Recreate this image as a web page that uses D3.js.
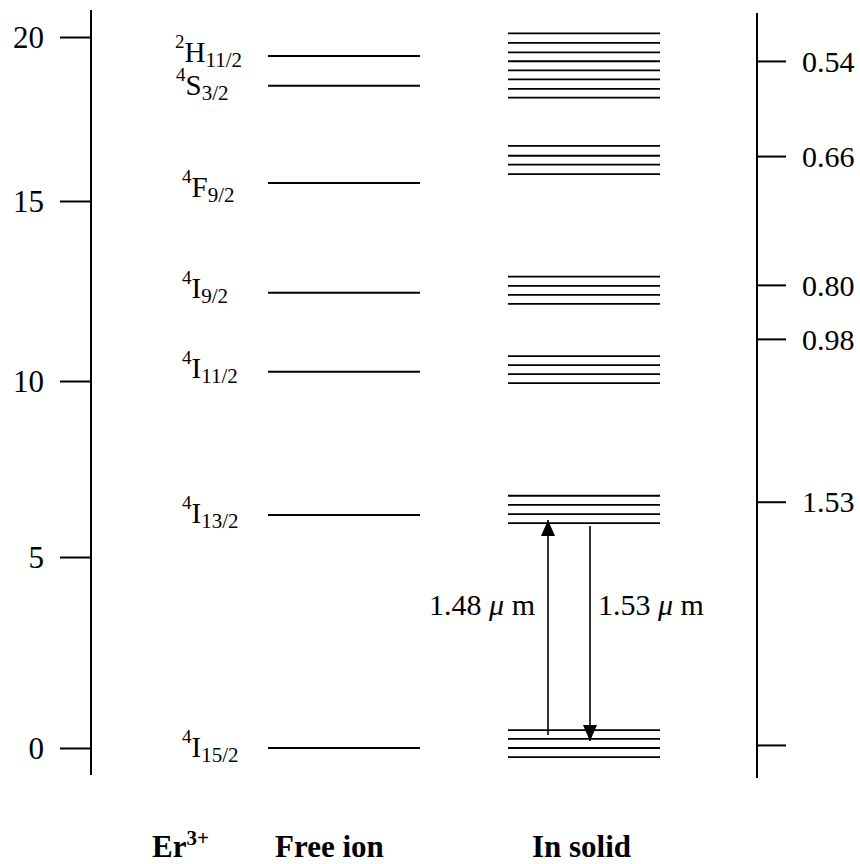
<!DOCTYPE html>
<html>
<head>
<meta charset="utf-8">
<script src="https://cdn.jsdelivr.net/npm/d3@7"></script>
<style>
  body { margin: 0; background: #fff; }
  svg text { font-family: "Liberation Serif", "Tinos", "Times New Roman", "DejaVu Serif", serif; fill: #000; }
</style>
</head>
<body>
<div id="chart-area"></div>
<script>
// energy axis, 10^3 cm^-1
var energyTicks = [0, 5, 10, 15, 20];

// free ion terms (lowest first)
var termSpin   = ["4", "4", "4", "4", "4", "4", "2"];
var termLetter = ["I", "I", "I", "I", "F", "S", "H"];
var termJ      = ["15/2", "13/2", "11/2", "9/2", "9/2", "3/2", "11/2"];
var freeIonEnergy = [0, 6.19, 10.26, 12.45, 15.55, 18.51, 19.42];

// stark sublevels in the solid
var starkI15 = [0.47, 0.24, 0, -0.24];
var starkI13 = [6.74, 6.48, 6.22, 5.96];
var starkI11 = [10.69, 10.44, 10.19, 9.94];
var starkI9  = [12.90, 12.64, 12.39, 12.14];
var starkF9  = [16.68, 16.38, 16.11, 15.82];
var starkSH  = [20.11, 19.82, 19.53, 19.26, 18.98, 18.71, 18.42, 18.15];

// wavelength marks on the right (um)
var wavelengthLabels = ["0.54", "0.66", "0.80", "0.98", "1.53", ""];
var wavelengthEnergy = [19.27, 16.37, 12.67, 11.17, 6.57, 0.08];

// pump / emission arrows
var transitionValue = ["1.48", "1.53"];
var transitionFrom  = [0.34, 5.88];
var transitionTo    = [6.05, 0.18];

var columnLabels = ["Er", "Free ion", "In solid"];

var width = 860, height = 864;
var leftAxisX = 91, rightAxisX = 757;
var axisTop = 10, axisBottom = 775;
var freeX = [268, 420], solidX = [508, 660];

var svg = d3.select("#chart-area").append("svg")
    .attr("width", width)
    .attr("height", height);

svg.append("rect").attr("width", width).attr("height", height).attr("fill", "#fff");

// tick spacing as drawn in the figure
var y = d3.scaleLinear()
    .domain(energyTicks)
    .range([748, 557, 381, 201, 37]);

// left energy axis
var left = svg.append("g")
    .attr("transform", "translate(" + leftAxisX + ",0)")
    .call(d3.axisLeft(y).tickValues(energyTicks).tickSize(31).tickPadding(16).tickSizeOuter(0));
left.attr("font-family", null);
left.select(".domain").remove();
left.selectAll("line").attr("stroke-width", 2);
left.selectAll("text").attr("font-size", 31).attr("dy", "0.34em");
svg.append("line")
    .attr("x1", leftAxisX).attr("x2", leftAxisX)
    .attr("y1", axisTop).attr("y2", axisBottom)
    .attr("stroke", "#000").attr("stroke-width", 2);

// right wavelength axis
var right = svg.append("g")
    .attr("transform", "translate(" + rightAxisX + ",0)")
    .call(d3.axisRight(y).tickValues(wavelengthEnergy).tickSize(29).tickPadding(16).tickSizeOuter(0)
        .tickFormat(function(d, i){ return wavelengthLabels[i]; }));
right.attr("font-family", null);
right.select(".domain").remove();
right.selectAll("line").attr("stroke-width", 2);
right.selectAll("text").attr("font-size", 30).attr("dy", "0.34em");
svg.append("line")
    .attr("x1", rightAxisX).attr("x2", rightAxisX)
    .attr("y1", 13).attr("y2", 778)
    .attr("stroke", "#000").attr("stroke-width", 2);

// free ion levels
svg.selectAll("line.free").data(freeIonEnergy).enter()
    .append("line")
        .attr("class", "free")
        .attr("x1", freeX[0]).attr("x2", freeX[1])
        .attr("y1", function(d){ return y(d); })
        .attr("y2", function(d){ return y(d); })
        .attr("stroke", "#000").attr("stroke-width", 2);

// term symbols, nudged the way they sit in the figure
var labelX  = [182, 182, 182, 182, 182, 176, 175];
var labelDy = [9, 8, 6.5, 5.6, 14, 9, 5.7];
var terms = svg.selectAll("text.term").data(freeIonEnergy).enter()
    .append("text")
        .attr("class", "term")
        .attr("x", function(d, i){ return labelX[i]; })
        .attr("y", function(d, i){ return y(d) + labelDy[i]; });
terms.append("tspan").attr("font-size", 19).attr("dy", -14)
    .text(function(d, i){ return termSpin[i]; });
terms.append("tspan").attr("font-size", 29).attr("dy", 14)
    .text(function(d, i){ return termLetter[i]; });
terms.append("tspan").attr("font-size", 21).attr("dy", 5)
    .text(function(d, i){ return termJ[i]; });

// stark manifolds in the solid
var stark = [].concat(starkI15, starkI13, starkI11, starkI9, starkF9, starkSH);
svg.selectAll("line.stark").data(stark).enter()
    .append("line")
        .attr("class", "stark")
        .attr("x1", solidX[0]).attr("x2", solidX[1])
        .attr("y1", function(d){ return y(d); })
        .attr("y2", function(d){ return y(d); })
        .attr("stroke", "#000").attr("stroke-width", 1.8);

// arrows
svg.append("defs").append("marker")
    .attr("id", "head")
    .attr("viewBox", "0 -7 16 14")
    .attr("refX", 16).attr("refY", 0)
    .attr("markerWidth", 16).attr("markerHeight", 14)
    .attr("markerUnits", "userSpaceOnUse")
    .attr("orient", "auto")
  .append("path")
    .attr("d", "M0,-7L16,0L0,7Z")
    .attr("fill", "#000");

var arrowX = [548, 590];
svg.selectAll("line.arrow").data(transitionFrom).enter()
    .append("line")
        .attr("class", "arrow")
        .attr("x1", function(d, i){ return arrowX[i]; })
        .attr("x2", function(d, i){ return arrowX[i]; })
        .attr("y1", function(d){ return y(d); })
        .attr("y2", function(d, i){ return y(transitionTo[i]); })
        .attr("stroke", "#000").attr("stroke-width", 1.6)
        .attr("marker-end", "url(#head)");

// wavelength next to each arrow
var arrowText = svg.selectAll("text.tr").data(transitionValue).enter()
    .append("text")
        .attr("class", "tr")
        .attr("x", function(d, i){ return i == 0 ? arrowX[i] - 13 : arrowX[i] + 8; })
        .attr("y", 615)
        .attr("text-anchor", function(d, i){ return i == 0 ? "end" : "start"; })
        .attr("font-size", 30);
arrowText.append("tspan").text(function(d){ return d + " "; });
arrowText.append("tspan").attr("font-style", "italic").text("\u03bc");
arrowText.append("tspan").text(" m");

// column captions
var capX = [152, 275, 532];
var caps = svg.selectAll("text.cap").data(columnLabels).enter()
    .append("text")
        .attr("class", "cap")
        .attr("x", function(d, i){ return capX[i]; })
        .attr("y", 857)
        .attr("font-size", 31)
        .attr("font-weight", "bold")
        .text(function(d){ return d; });
caps.filter(function(d, i){ return i == 0; })
    .append("tspan")
        .attr("font-size", 21)
        .attr("dy", -12)
        .text("3+");
</script>
</body>
</html>
